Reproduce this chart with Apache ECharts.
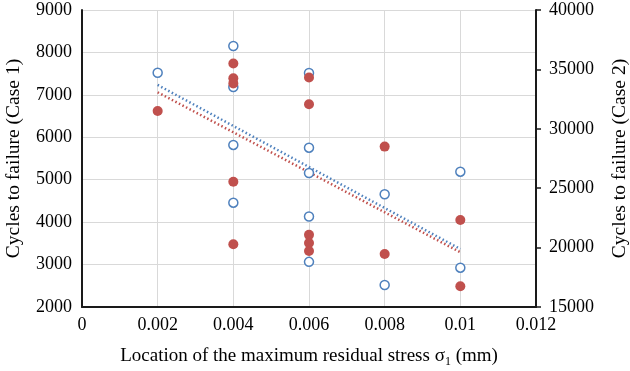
<!DOCTYPE html>
<html>
<head>
<meta charset="utf-8">
<script src="https://cdn.jsdelivr.net/npm/echarts@6/dist/echarts.min.js"></script>
<style>
  html, body { margin: 0; padding: 0; background: #fff; }
  #chart { width: 630px; height: 371px; }
</style>
</head>
<body>
<div id="chart"></div>
<script>
// x positions (mm) and cycles for each case
const case1X = [0.002, 0.004, 0.004, 0.004, 0.004, 0.004, 0.006, 0.006, 0.006, 0.006, 0.006, 0.008, 0.008, 0.01, 0.01];
const case1Y = [6620, 7740, 7390, 7270, 4950, 3480, 7410, 6780, 3700, 3510, 3320, 5780, 3250, 4050, 2490];
const case2X = [0.002, 0.004, 0.004, 0.004, 0.004, 0.006, 0.006, 0.006, 0.006, 0.006, 0.008, 0.008, 0.01, 0.01];
const case2Y = [34720, 36970, 33520, 28640, 23780, 34700, 28410, 26280, 22620, 18800, 24490, 16850, 26390, 18310];

// trendline ends
const trendX = [0.002, 0.01];
const trend1Y = [7060, 3290];
const trend2Y = [33690, 19880];

const zip = (xs, ys) => xs.map((x, i) => [x, ys[i]]);

const font = 'Liberation Serif';
const axisColor = '#1a1a1a';
const gridColor = '#d9d9d9';
const red = '#C0504D';
const blue = '#4F81BD';

const chart = echarts.init(document.getElementById('chart'), null, { renderer: 'canvas' });

const plain = v => String(v);

const option = {
  animation: false,
  backgroundColor: '#fff',
  textStyle: { fontFamily: font, color: '#000' },
  grid: { left: 82, right: 94, top: 10, bottom: 64, containLabel: false, outerBoundsMode: 'none' },
  xAxis: {
    type: 'value',
    min: 0,
    max: 0.012,
    interval: 0.002,
    name: 'Location of the maximum residual stress σ{sub|1} (mm)',
    nameLocation: 'middle',
    nameGap: 37,
    nameTextStyle: {
      fontFamily: font, fontSize: 19, color: '#000',
      rich: { sub: { fontFamily: font, fontSize: 12, color: '#000', padding: [12, 0, 0, 0] } }
    },
    axisLine: { show: true, onZero: false, lineStyle: { color: axisColor, width: 2 } },
    axisTick: { show: false },
    axisLabel: { fontFamily: font, fontSize: 18, color: '#000', margin: 9 },
    splitLine: { show: true, lineStyle: { color: gridColor, width: 1 } }
  },
  yAxis: [
    {
      type: 'value',
      min: 2000,
      max: 9000,
      interval: 1000,
      name: 'Cycles to failure (Case 1)',
      nameLocation: 'middle',
      nameGap: 58,
      nameTextStyle: { fontFamily: font, fontSize: 19.5, color: '#000' },
      axisLine: { show: true, lineStyle: { color: axisColor, width: 2 } },
      axisTick: { show: false },
      axisLabel: { fontFamily: font, fontSize: 18, color: '#000', margin: 10, formatter: plain },
      splitLine: { show: true, lineStyle: { color: gridColor, width: 1 } }
    },
    {
      type: 'value',
      min: 15000,
      max: 40000,
      interval: 5000,
      position: 'right',
      name: 'Cycles to failure (Case 2)',
      nameLocation: 'middle',
      nameGap: 74,
      nameRotate: 90,
      nameTextStyle: { fontFamily: font, fontSize: 19.5, color: '#000' },
      axisLine: { show: true, lineStyle: { color: axisColor, width: 2 } },
      axisTick: { show: true, inside: false, length: 5, lineStyle: { color: axisColor, width: 1.5 } },
      axisLabel: { fontFamily: font, fontSize: 18, color: '#000', margin: 13, formatter: plain },
      splitLine: { show: false }
    }
  ],
  series: [
    {
      name: 'Case 2',
      type: 'scatter',
      yAxisIndex: 1,
      data: zip(case2X, case2Y),
      symbol: 'circle',
      symbolSize: 9,
      itemStyle: { color: '#fff', borderColor: blue, borderWidth: 1.5, opacity: 1 },
      z: 3
    },
    {
      name: 'Case 1',
      type: 'scatter',
      yAxisIndex: 0,
      data: zip(case1X, case1Y),
      symbol: 'circle',
      symbolSize: 10,
      itemStyle: { color: red, opacity: 1 },
      z: 4
    },
    {
      name: 'Trend 2',
      type: 'line',
      yAxisIndex: 1,
      data: zip(trendX, trend2Y),
      showSymbol: false,
      symbol: 'none',
      lineStyle: { color: blue, width: 2.5, type: [1.5, 2.5], cap: 'butt' },
      z: 2
    },
    {
      name: 'Trend 1',
      type: 'line',
      yAxisIndex: 0,
      data: zip(trendX, trend1Y),
      showSymbol: false,
      symbol: 'none',
      lineStyle: { color: red, width: 2.5, type: [1.5, 2.5], cap: 'butt' },
      z: 2
    }
  ]
};

chart.setOption(option);
</script>
</body>
</html>
